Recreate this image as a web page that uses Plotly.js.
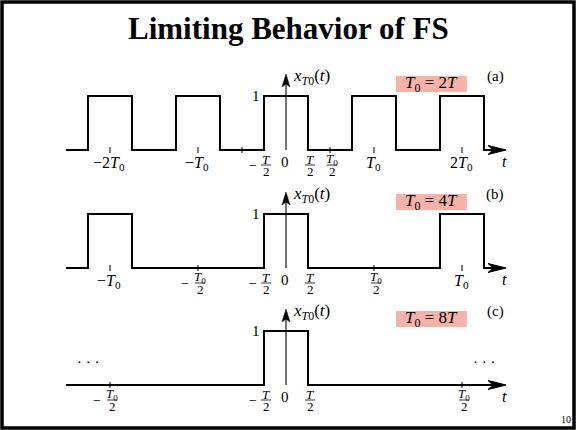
<!DOCTYPE html>
<html><head><meta charset="utf-8">
<script src="https://cdn.plot.ly/plotly-3.0.1.min.js"></script>
<style>html,body{margin:0;padding:0;background:#fff;}#chart{width:576px;height:430px;}</style>
</head><body><div id="chart"></div>
<script>
// ---------- data (time in units of the pulse width T) ----------
const panelNames = ['(a)', '(b)', '(c)'];
const periodLabels = ['<i>T</i><sub>0</sub> = 2<i>T</i>', '<i>T</i><sub>0</sub> = 4<i>T</i>', '<i>T</i><sub>0</sub> = 8<i>T</i>'];
const pulseCentersA = [-4, -2, 0, 2, 4];
const pulseCentersB = [-4, 0, 4];
const pulseCentersC = [0];
const pulseWidth = 1;
const pulseHeight = 1;
const axisStart = -5;
const axisEnd = 5;
const tickPosA = [-4, -2, -1, 1, 2, 4];
const tickPosB = [-4, -2, 2, 4];
const tickPosC = [-4, 4];
const inlinePosA = [-4, -2, 2, 4];
const inlineTextA = ['−2<i>T</i><sub>0</sub>', '−<i>T</i><sub>0</sub>', '<i>T</i><sub>0</sub>', '2<i>T</i><sub>0</sub>'];
const inlinePosB = [-4, 4];
const inlineTextB = ['−<i>T</i><sub>0</sub>', '<i>T</i><sub>0</sub>'];
const inlinePosC = [];
const inlineTextC = [];
const fracPosA = [-0.5, 0.5, 1];
const fracNumA = ['T', 'T', 'T0'];
const fracNegA = [true, false, false];
const fracPosB = [-2, -0.5, 0.5, 2];
const fracNumB = ['T0', 'T', 'T', 'T0'];
const fracNegB = [true, true, false, false];
const fracPosC = [-4, -0.5, 0.5, 4];
const fracNumC = ['T0', 'T', 'T', 'T0'];
const fracNegC = [true, true, false, false];
const dotsPosC = [-4.48, 4.5];

// ---------- layout constants ----------
const W = 576, H = 430;
const pxPerT = 44, centerPx = 286;
const pxPerUnit = 54;
const baselines = [150, 268, 385];
const serif = 'Liberation Serif, Times New Roman, serif';
const yNames = ['y', 'y2', 'y3'];

const centers = [pulseCentersA, pulseCentersB, pulseCentersC];
const ticks = [tickPosA, tickPosB, tickPosC];
const inlinePos = [inlinePosA, inlinePosB, inlinePosC];
const inlineText = [inlineTextA, inlineTextB, inlineTextC];
const fracPos = [fracPosA, fracPosB, fracPosC];
const fracNum = [fracNumA, fracNumB, fracNumC];
const fracNeg = [fracNegA, fracNegB, fracNegC];

const traces = [], annotations = [], shapes = [];
const u = v => v / pxPerUnit;   // vertical pixels -> panel units
const ux = v => v / pxPerT;     // horizontal pixels -> time units

function numHtml(s) { return s === 'T0' ? '<i>T</i><sub>0</sub>' : '<i>T</i>'; }

for (let p = 0; p < 3; p++) {
  const yr = yNames[p];
  // waveform (baseline runs along the t-axis)
  const xs = [axisStart], ys = [0];
  centers[p].forEach(c => {
    xs.push(c - pulseWidth / 2, c - pulseWidth / 2, c + pulseWidth / 2, c + pulseWidth / 2);
    ys.push(0, pulseHeight, pulseHeight, 0);
  });
  xs.push(axisEnd - ux(10)); ys.push(0);
  traces.push({x: xs, y: ys, yaxis: yr, mode: 'lines', line: {color: '#000', width: 2}, hoverinfo: 'skip'});
  // vertical axis
  traces.push({x: [0, 0], y: [0, u(66)], yaxis: yr, mode: 'lines', line: {color: '#000', width: 1.1}, hoverinfo: 'skip'});
  // tick marks
  const tx = [], ty = [];
  ticks[p].forEach(t => { tx.push(t, t, null); ty.push(u(-3), u(3), null); });
  traces.push({x: tx, y: ty, yaxis: yr, mode: 'lines', line: {color: '#000', width: 1}, hoverinfo: 'skip'});
  // arrowheads (horizontal t-axis and vertical axis)
  traces.push({x: [axisEnd, axisEnd - ux(18), axisEnd - ux(13), axisEnd - ux(18), axisEnd],
    y: [0, u(4.5), 0, u(-4.5), 0], yaxis: yr, mode: 'lines', fill: 'toself', fillcolor: '#000',
    line: {color: '#000', width: 1}, hoverinfo: 'skip'});
  traces.push({x: [0, ux(4), 0, ux(-4), 0],
    y: [u(76), u(63), u(66), u(63), u(76)], yaxis: yr, mode: 'lines', fill: 'toself', fillcolor: '#000',
    line: {color: '#000', width: 0.5}, hoverinfo: 'skip'});

  // highlighted box with period label
  shapes.push({type: 'rect', xref: 'x', yref: yr, x0: 2.5, x1: 4.11, y0: u(58), y1: u(74),
    fillcolor: '#f5b2a8', line: {width: 0}, layer: 'below'});
  annotations.push({x: 3.305, y: u(66), xref: 'x', yref: yr, text: periodLabels[p], showarrow: false,
    font: {family: serif, size: 17, color: '#000'}, xanchor: 'center', yanchor: 'middle'});
  // panel name
  annotations.push({x: 4.75, y: u(74), xref: 'x', yref: yr, text: panelNames[p], showarrow: false,
    font: {family: serif, size: 15, color: '#000'}, xanchor: 'center', yanchor: 'middle'});
  // y label
  annotations.push({x: 0, y: u(73), xref: 'x', yref: yr, text: '<i>x</i><sub><i>T</i>0</sub>(<i>t</i>)', showarrow: false,
    font: {family: serif, size: 17, color: '#000'}, xanchor: 'left', yanchor: 'middle', xshift: 5});
  // level 1
  annotations.push({x: -pulseWidth / 2, y: pulseHeight, xref: 'x', yref: yr, text: '1', showarrow: false,
    font: {family: serif, size: 15, color: '#000'}, xanchor: 'right', yanchor: 'middle', xshift: -2});
  // t label
  annotations.push({x: axisEnd, y: 0, xref: 'x', yref: yr, text: '<i>t</i>', showarrow: false,
    font: {family: serif, size: 16, color: '#000'}, xanchor: 'center', yanchor: 'middle', xshift: -2, yshift: -11});
  // zero
  annotations.push({x: 0, y: 0, xref: 'x', yref: yr, text: '0', showarrow: false,
    font: {family: serif, size: 15, color: '#000'}, xanchor: 'center', yanchor: 'middle', xshift: -1, yshift: -12});
  // inline tick labels
  inlinePos[p].forEach((t, i) => {
    annotations.push({x: t, y: 0, xref: 'x', yref: yr, text: inlineText[p][i], showarrow: false,
      font: {family: serif, size: 16, color: '#000'}, xanchor: 'center', yanchor: 'middle', xshift: -1, yshift: -13});
  });
  // fraction tick labels
  fracPos[p].forEach((t, i) => {
    const dx = 2;
    annotations.push({x: t, y: 0, xref: 'x', yref: yr, text: numHtml(fracNum[p][i]), showarrow: false,
      font: {family: serif, size: 13, color: '#000'}, xanchor: 'center', yanchor: 'middle', xshift: dx, yshift: -9});
    annotations.push({x: t, y: 0, xref: 'x', yref: yr, text: '2', showarrow: false,
      font: {family: serif, size: 13, color: '#000'}, xanchor: 'center', yanchor: 'middle', xshift: dx, yshift: -21});
    shapes.push({type: 'line', xref: 'x', yref: yr, xsizemode: 'pixel', ysizemode: 'pixel',
      xanchor: t, yanchor: 0, x0: dx - 5, x1: dx + 5, y0: -15, y1: -15, line: {color: '#000', width: 0.8}});
    if (fracNeg[p][i]) {
      annotations.push({x: t, y: 0, xref: 'x', yref: yr, text: '−', showarrow: false,
        font: {family: serif, size: 14, color: '#000'}, xanchor: 'center', yanchor: 'middle',
        xshift: fracNum[p][i] === 'T0' ? -13 : -11, yshift: -15});
    }
  });
}
// continuation dots in panel (c)
dotsPosC.forEach(t => {
  annotations.push({x: t, y: u(23), xref: 'x', yref: 'y3', text: '· · ·', showarrow: false,
    font: {family: serif, size: 15, color: '#000'}, xanchor: 'center', yanchor: 'middle'});
});

// title, page number
annotations.push({x: 0.5, y: 1 - 29 / H, xref: 'paper', yref: 'paper', text: '<b>Limiting Behavior of FS</b>',
  showarrow: false, font: {family: serif, size: 31, color: '#000'}, xanchor: 'center', yanchor: 'middle'});
annotations.push({x: 566 / W, y: 1 - 419 / H, xref: 'paper', yref: 'paper', text: '10',
  showarrow: false, font: {family: serif, size: 10, color: '#000'}, xanchor: 'center', yanchor: 'middle'});
// slide frame
shapes.push({type: 'rect', xref: 'paper', yref: 'paper', x0: 2 / W, x1: 1 - 2 / W, y0: 2 / H, y1: 1 - 2 / H,
  line: {color: '#000', width: 3.5}, fillcolor: 'rgba(0,0,0,0)'});

const layout = {
  width: W, height: H, margin: {l: 0, r: 0, t: 0, b: 0},
  paper_bgcolor: '#fff', plot_bgcolor: '#fff', showlegend: false,
  xaxis: {range: [-centerPx / pxPerT, (W - centerPx) / pxPerT], visible: false, fixedrange: true},
  annotations: annotations, shapes: shapes
};
baselines.forEach((b, i) => {
  const key = i === 0 ? 'yaxis' : 'yaxis' + (i + 1);
  layout[key] = {range: [(b - H) / pxPerUnit, b / pxPerUnit], visible: false, fixedrange: true,
    domain: [0, 1], anchor: 'x'};
  if (i > 0) layout[key].overlaying = 'y';
});

Plotly.newPlot('chart', traces, layout, {staticPlot: true, displayModeBar: false});
</script></body></html>
